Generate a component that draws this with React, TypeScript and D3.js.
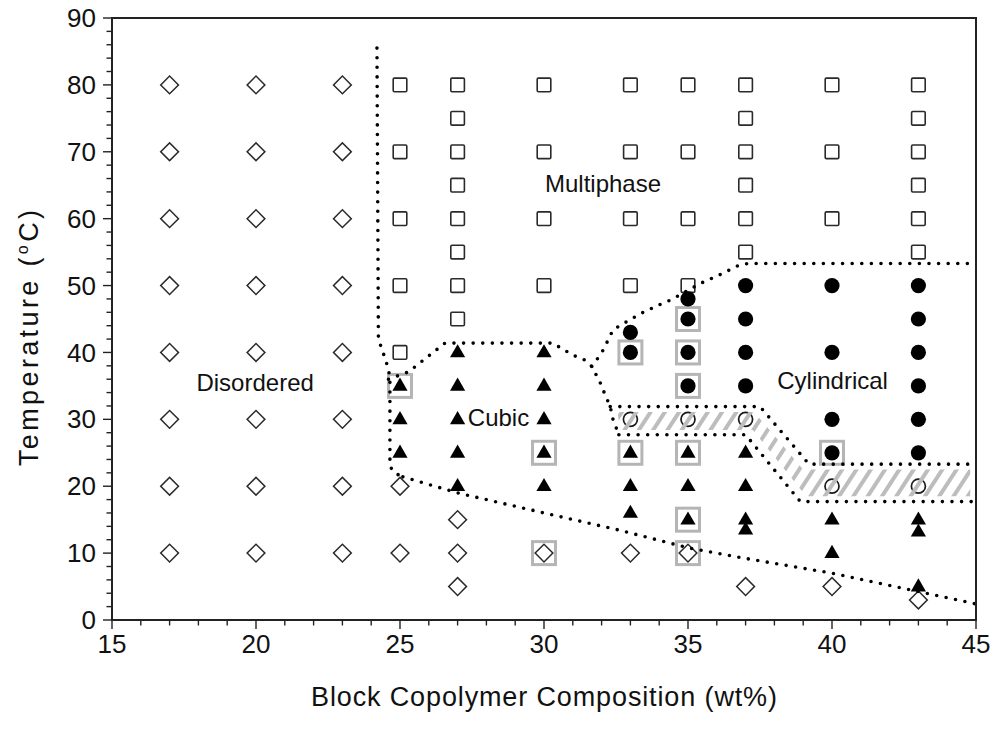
import React from "react";
import * as d3 from "d3";

// ---------- data ----------
const disordered: [number, number][] = [
  [17, 10], [17, 20], [17, 30], [17, 40], [17, 50], [17, 60], [17, 70], [17, 80],
  [20, 10], [20, 20], [20, 30], [20, 40], [20, 50], [20, 60], [20, 70], [20, 80],
  [23, 10], [23, 20], [23, 30], [23, 40], [23, 50], [23, 60], [23, 70], [23, 80],
  [25, 10], [25, 20],
  [27, 5], [27, 10], [27, 15],
  [30, 10], [33, 10], [35, 10], [37, 5], [40, 5], [43, 3],
];
const multiphase: [number, number][] = [
  [25, 40], [25, 50], [25, 60], [25, 70], [25, 80],
  [27, 45], [27, 50], [27, 55], [27, 60], [27, 65], [27, 70], [27, 75], [27, 80],
  [30, 50], [30, 60], [30, 70], [30, 80],
  [33, 50], [33, 60], [33, 70], [33, 80],
  [35, 50], [35, 60], [35, 70], [35, 80],
  [37, 55], [37, 60], [37, 65], [37, 70], [37, 75], [37, 80],
  [40, 60], [40, 70], [40, 80],
  [43, 55], [43, 60], [43, 65], [43, 70], [43, 75], [43, 80],
];
const cubic: [number, number][] = [
  [25, 25], [25, 30], [25, 35],
  [27, 20], [27, 25], [27, 30], [27, 35], [27, 40],
  [30, 20], [30, 25], [30, 30], [30, 35], [30, 40],
  [33, 16], [33, 20], [33, 25],
  [35, 15], [35, 20], [35, 25],
  [37, 13.5], [37, 15], [37, 20], [37, 25],
  [40, 10], [40, 15],
  [43, 5], [43, 13.2], [43, 15],
];
const cylindrical: [number, number][] = [
  [33, 40], [33, 43],
  [35, 35], [35, 40], [35, 45], [35, 48],
  [37, 35], [37, 40], [37, 45], [37, 50],
  [40, 25], [40, 30], [40, 40], [40, 50],
  [43, 25], [43, 30], [43, 35], [43, 40], [43, 45], [43, 50],
];
const coexisting: [number, number][] = [
  [33, 30], [35, 30], [37, 30], [40, 20], [43, 20],
];
const highlighted: [number, number][] = [
  [25, 35], [30, 25], [30, 10], [33, 40], [33, 25],
  [35, 45], [35, 40], [35, 35], [35, 25], [35, 15], [35, 10], [40, 25],
];

// phase boundaries
const boundaryDisordered: [number, number][] = [
  [24.2, 85.5], [24.25, 42], [24.45, 39.5], [24.6, 37.5], [24.65, 36], [24.65, 23],
  [24.8, 22], [25.1, 21.4],
];
const boundaryLower: [number, number][] = [
  [25.1, 21.4], [27, 19], [30, 16], [32.6, 13.45], [35, 10.8], [37, 9.2], [40, 7], [45, 2.4],
];
const boundaryCubicTop: [number, number][] = [
  [24.6, 36], [25.3, 37.1], [26.56, 41.4], [30.3, 41.4], [31.0, 39.6], [31.4, 38.9],
  [31.66, 37.9], [31.94, 35.6], [32.1, 33.9], [32.3, 31.9], [32.4, 29.9], [32.6, 27.7],
];
const boundaryCylTop: [number, number][] = [
  [31.66, 37.9], [31.83, 38.9], [32.06, 40.4], [32.4, 43.4], [32.75, 44.3], [33.4, 45.9],
  [34.09, 47.3], [34.43, 47.9], [35.42, 50.3], [36.1, 51.6], [36.8, 53.1], [37.1, 53.3], [45, 53.3],
];
const bandUpper: [number, number][] = [
  [32.3, 31.9], [37.5, 31.9], [39.2, 23.3], [45, 23.3],
];
const bandLower: [number, number][] = [
  [32.6, 27.7], [37.0, 27.7], [38.9, 17.7], [45, 17.7],
];
const hatchRegion: [number, number][] = [
  [32.55, 31.1], [37.3, 31.1], [39.0, 22.5], [44.8, 22.5], [44.8, 18.5],
  [39.1, 18.5], [37.25, 28.4], [32.65, 28.4],
];

const regionLabels = [
  { text: "Multiphase", x: 32.05, y: 64.0 },
  { text: "Disordered", x: 19.97, y: 34.2 },
  { text: "Cubic", x: 28.42, y: 29.0 },
  { text: "Cylindrical", x: 40.02, y: 34.5 },
];

const xTicks = [15, 20, 25, 30, 35, 40, 45];
const yTicks = [0, 10, 20, 30, 40, 50, 60, 70, 80, 90];

// ---------- layout ----------
const W = 1000;
const H = 734;
const L = 112, R = 976, T = 18, B = 620;
const FONT = "'Liberation Sans', Arial, Helvetica, sans-serif";

const x = d3.scaleLinear().domain([15, 45]).range([L, R]);
const y = d3.scaleLinear().domain([0, 90]).range([B, T]);

const line = d3.line<[number, number]>().x((d) => x(d[0])).y((d) => y(d[1]));

const diamondPath = d3.symbol().type(d3.symbolSquare).size(158)()!;
const trianglePath = d3.symbol().type(d3.symbolTriangle).size(100)()!;

export default function App() {
  const xMinor = d3.range(15, 45.01, 1);
  const yMinor = d3.range(0, 90.01, 2);
  const dotted = {
    fill: "none",
    stroke: "#000",
    strokeWidth: 3.6,
    strokeLinecap: "round" as const,
    strokeDasharray: "0 9.6",
  };
  return (
    <svg
      width={W}
      height={H}
      style={{ position: "absolute", left: 0, top: 0, background: "#fff" }}
      fontFamily={FONT}
    >
      <defs>
        <pattern
          id="hatch"
          patternUnits="userSpaceOnUse"
          width={12}
          height={12}
          patternTransform="rotate(33)"
        >
          <rect x={0} y={0} width={4} height={12} fill="#bdbdbd" />
        </pattern>
      </defs>
      <rect x={0} y={0} width={W} height={H} fill="#fff" />

      {/* highlight squares */}
      {highlighted.map((d, i) => (
        <rect
          key={"h" + i}
          x={x(d[0]) - 11.5}
          y={y(d[1]) - 11.5}
          width={23}
          height={23}
          fill="none"
          stroke="#b5b5b5"
          strokeWidth={3}
        />
      ))}

      {/* open squares */}
      {multiphase.map((d, i) => (
        <rect
          key={"s" + i}
          x={x(d[0]) - 6.8}
          y={y(d[1]) - 6.8}
          width={13.6}
          height={13.6}
          rx={1.2}
          fill="none"
          stroke="#2a2a2a"
          strokeWidth={1.6}
        />
      ))}

      {/* diamonds */}
      {disordered.map((d, i) => (
        <path
          key={"d" + i}
          d={diamondPath}
          transform={`translate(${x(d[0])},${y(d[1])}) rotate(45)`}
          fill="none"
          stroke="#2a2a2a"
          strokeWidth={1.5}
        />
      ))}

      {/* open circles */}
      {coexisting.map((d, i) => (
        <circle
          key={"o" + i}
          cx={x(d[0])}
          cy={y(d[1])}
          r={7}
          fill="none"
          stroke="#1a1a1a"
          strokeWidth={1.7}
        />
      ))}

      {/* triangles */}
      {cubic.map((d, i) => (
        <path
          key={"t" + i}
          d={trianglePath}
          transform={`translate(${x(d[0])},${y(d[1]) + 0.5})`}
          fill="#000"
        />
      ))}

      {/* filled circles */}
      {cylindrical.map((d, i) => (
        <circle key={"c" + i} cx={x(d[0])} cy={y(d[1])} r={7.6} fill="#000" />
      ))}

      {/* hatch band */}
      <path d={line(hatchRegion)! + "Z"} fill="url(#hatch)" stroke="none" />

      {/* boundaries */}
      {[boundaryDisordered, boundaryLower, boundaryCubicTop, boundaryCylTop, bandUpper, bandLower].map(
        (b, i) => (
          <path key={"b" + i} d={line(b)!} {...dotted} />
        )
      )}

      {/* frame */}
      <rect x={L} y={T} width={R - L} height={B - T} fill="none" stroke="#222" strokeWidth={2} />

      {/* x ticks */}
      {xMinor.map((v) => {
        const major = Math.abs(v % 5) < 1e-6;
        return (
          <line
            key={"xt" + v}
            x1={x(v)}
            x2={x(v)}
            y1={B}
            y2={B + (major ? 9 : 5.5)}
            stroke="#222"
            strokeWidth={1.4}
          />
        );
      })}
      {/* y ticks */}
      {yMinor.map((v) => {
        const major = Math.abs(v % 10) < 1e-6;
        return (
          <line
            key={"yt" + v}
            x1={L}
            x2={L - (major ? 9 : 5.5)}
            y1={y(v)}
            y2={y(v)}
            stroke="#222"
            strokeWidth={1.4}
          />
        );
      })}

      {xTicks.map((v) => (
        <text key={"xl" + v} x={x(v)} y={B + 33} fontSize={26} textAnchor="middle" fill="#111">
          {v}
        </text>
      ))}
      {yTicks.map((v) => (
        <text
          key={"yl" + v}
          x={L - 16}
          y={y(v)}
          dy="0.35em"
          fontSize={26}
          textAnchor="end"
          fill="#111"
        >
          {v}
        </text>
      ))}

      {/* region labels */}
      {regionLabels.map((r) => (
        <text key={r.text} x={x(r.x)} y={y(r.y)} fontSize={24} textAnchor="middle" fill="#111">
          {r.text}
        </text>
      ))}

      {/* axis titles */}
      <text
        x={(L + R) / 2}
        y={706}
        fontSize={27}
        textAnchor="middle"
        textLength={466}
        lengthAdjust="spacing"
        fill="#111"
      >
        Block Copolymer Composition (wt%)
      </text>
      <text
        transform={`translate(38,338) rotate(-90)`}
        fontSize={27}
        textAnchor="middle"
        fill="#111"
        textLength={256}
        lengthAdjust="spacing"
      >
        Temperature (<tspan fontSize={16} dy={-10}>o</tspan>
        <tspan dy={10}>C)</tspan>
      </text>
    </svg>
  );
}
